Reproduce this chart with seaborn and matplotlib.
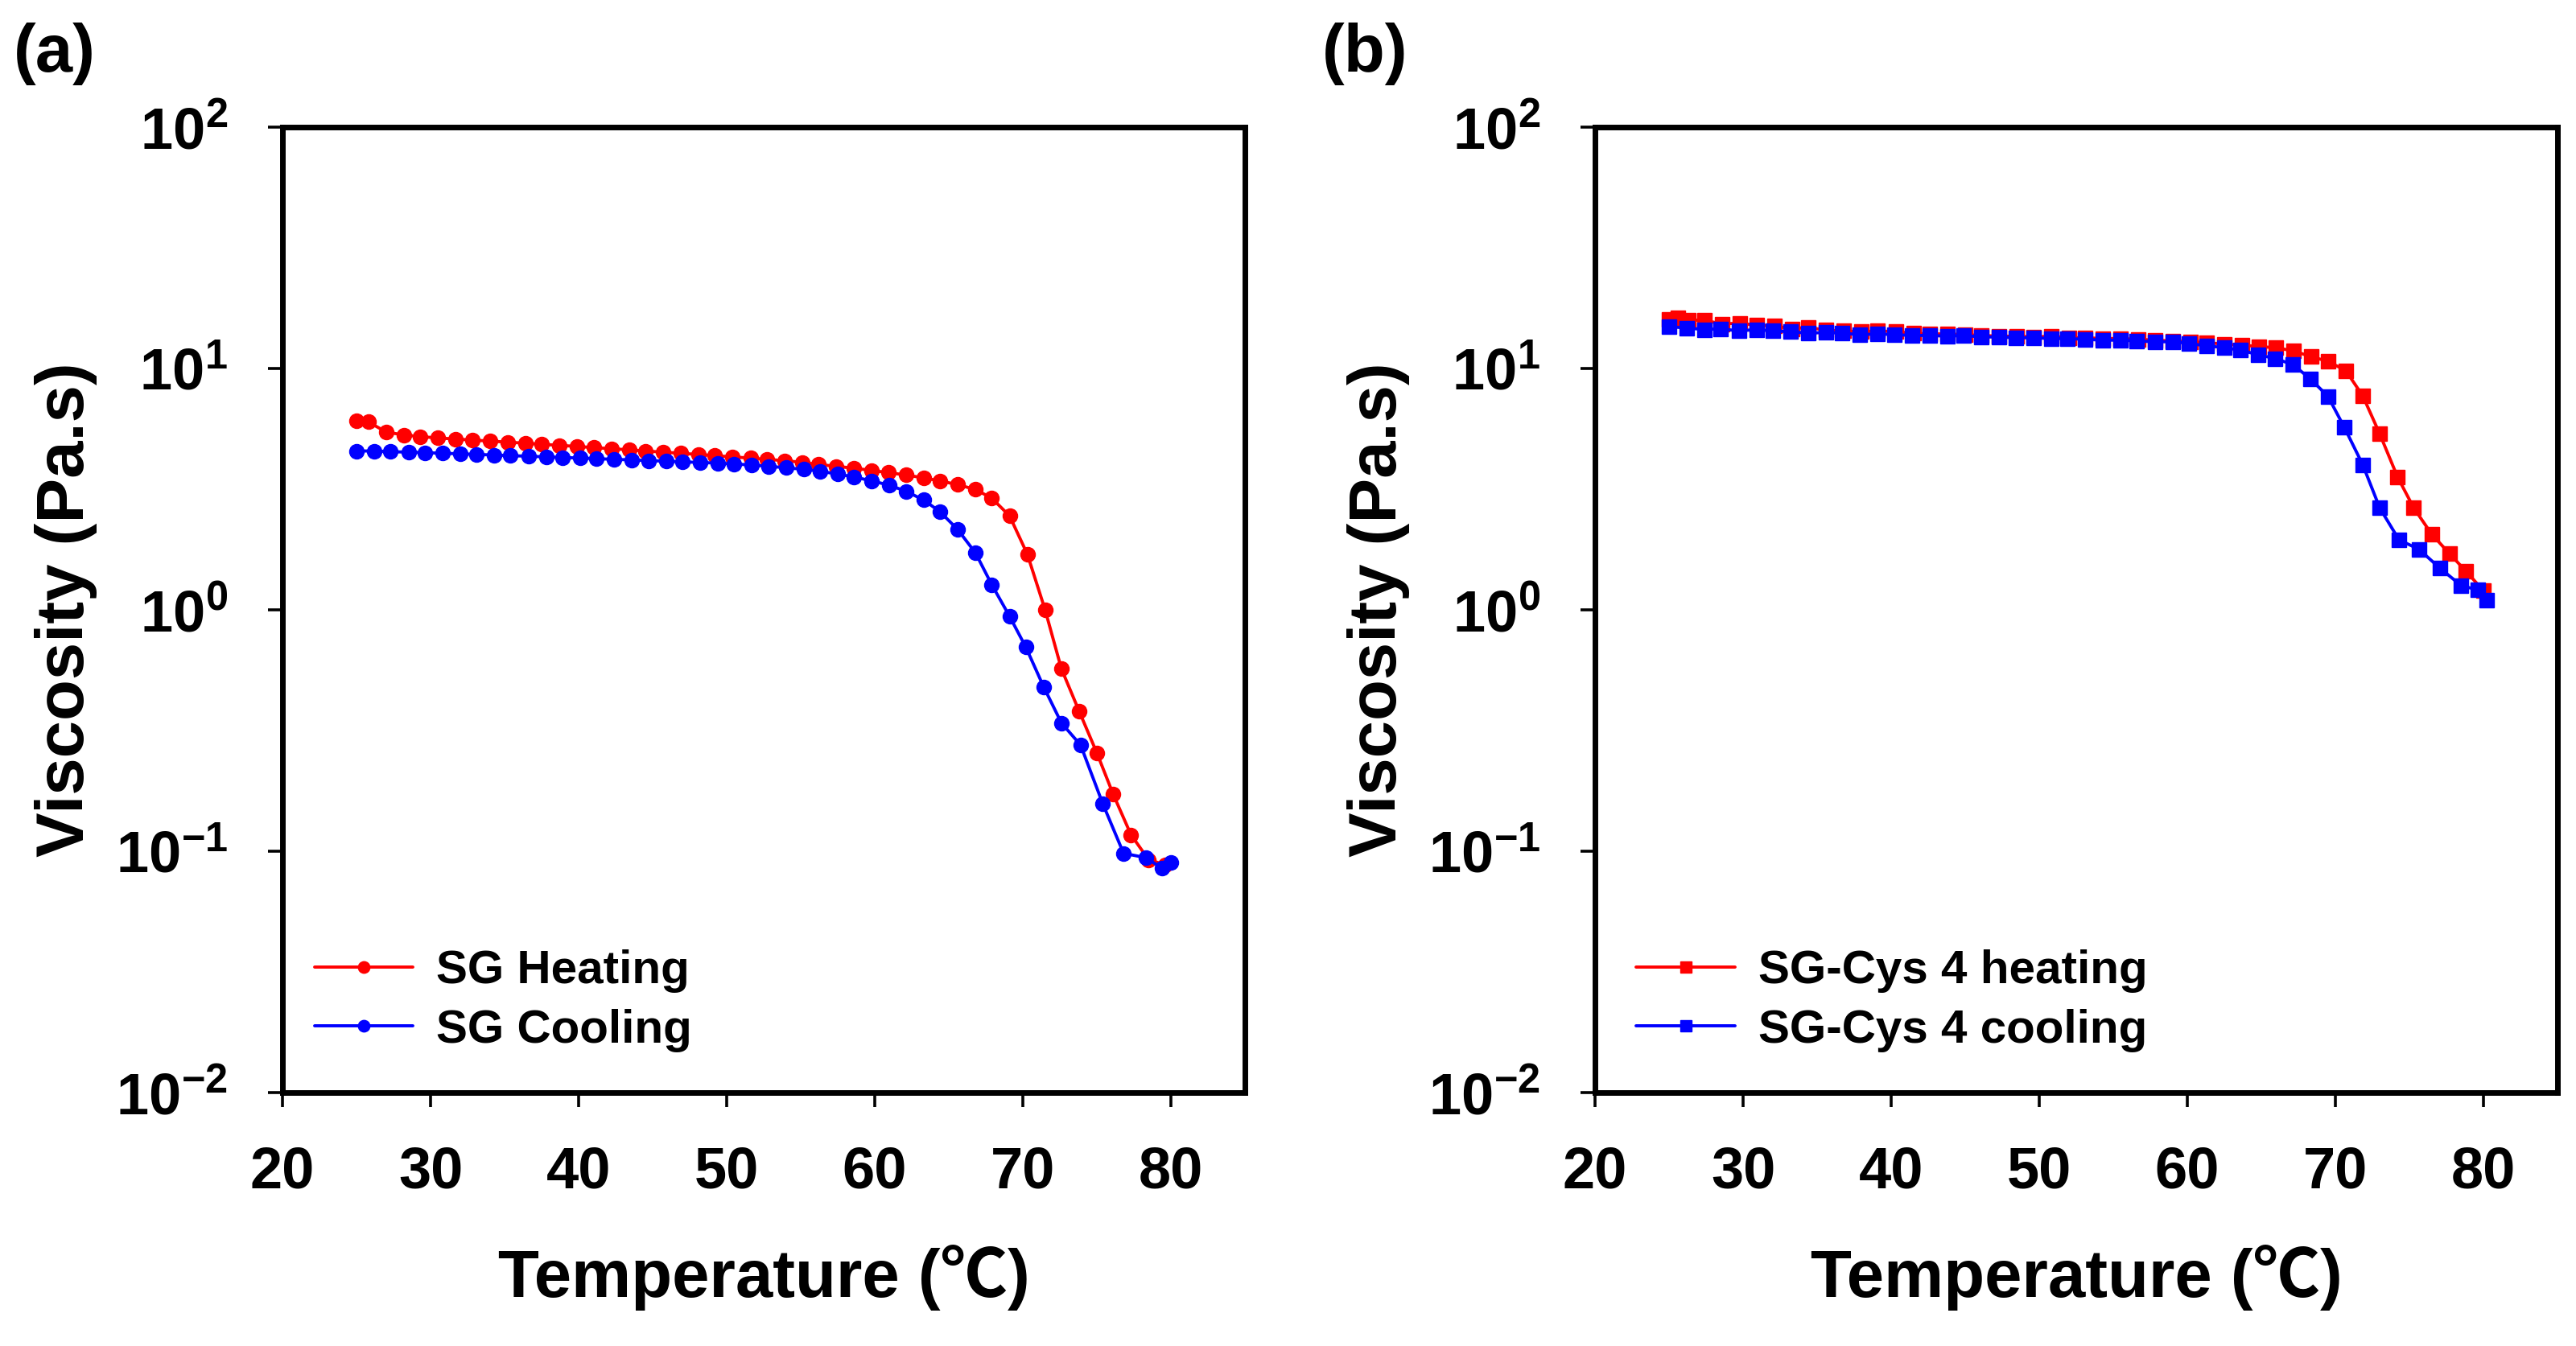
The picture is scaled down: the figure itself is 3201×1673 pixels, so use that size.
import numpy as np
import pandas as pd
import seaborn as sns
import matplotlib.pyplot as plt
from matplotlib.ticker import FixedLocator, NullLocator, LogFormatterSciNotation

# (a) SG
sg_heat_t = [25.0, 25.8, 27.0, 28.2, 29.3, 30.5, 31.7, 32.8, 34.0, 35.2, 36.4, 37.5, 38.7, 39.9,
             41.0, 42.2, 43.4, 44.5, 45.7, 46.9, 48.1, 49.2, 50.4, 51.6, 52.7, 53.9, 55.1, 56.2,
             57.4, 58.6, 59.8, 60.9, 62.1, 63.3, 64.4, 65.6, 66.8, 67.9, 69.1, 70.3, 71.5, 72.6,
             73.8, 75.0, 76.1, 77.3, 78.5, 79.6]
sg_heat_v = [6.05, 6.0, 5.45, 5.3, 5.22, 5.15, 5.1, 5.05, 5.0, 4.95, 4.9, 4.85, 4.8, 4.75,
             4.7, 4.65, 4.6, 4.55, 4.5, 4.45, 4.4, 4.35, 4.3, 4.25, 4.2, 4.15, 4.08, 4.0,
             3.93, 3.86, 3.78, 3.7, 3.62, 3.52, 3.42, 3.3, 3.15, 2.9, 2.45, 1.7, 1.0, 0.57,
             0.38, 0.255, 0.172, 0.117, 0.092, 0.088]
sg_cool_t = [25.0, 26.2, 27.3, 28.5, 29.6, 30.8, 32.0, 33.1, 34.3, 35.4, 36.6, 37.8, 38.9, 40.1,
             41.2, 42.4, 43.6, 44.7, 45.9, 47.0, 48.2, 49.4, 50.5, 51.7, 52.8, 54.0, 55.2, 56.3,
             57.5, 58.6, 59.8, 61.0, 62.1, 63.3, 64.4, 65.6, 66.8, 67.9, 69.1, 70.2, 71.4, 72.6,
             73.9, 75.4, 76.8, 78.3, 79.4, 80.0]
sg_cool_v = [4.55, 4.55, 4.52, 4.5, 4.48, 4.45, 4.43, 4.4, 4.38, 4.35, 4.33, 4.3, 4.28, 4.25,
             4.23, 4.2, 4.18, 4.15, 4.13, 4.1, 4.08, 4.05, 4.02, 3.98, 3.93, 3.88, 3.82, 3.75,
             3.65, 3.55, 3.42, 3.28, 3.1, 2.85, 2.55, 2.15, 1.72, 1.27, 0.94, 0.70, 0.48, 0.34,
             0.275, 0.157, 0.098, 0.094, 0.085, 0.09]

# (b) SG-Cys 4
cys_heat_t = [25.0, 25.6, 26.3, 27.4, 28.6, 29.8, 30.9, 32.1, 33.3, 34.4, 35.6, 36.8, 38.0, 39.1,
              40.3, 41.5, 42.6, 43.8, 45.0, 46.1, 47.3, 48.5, 49.6, 50.8, 52.0, 53.1, 54.3, 55.5,
              56.7, 57.8, 59.0, 60.2, 61.3, 62.5, 63.7, 64.85, 66.0, 67.2, 68.35, 69.5, 70.7,
              71.85, 73.0, 74.2, 75.3, 76.5, 77.7, 78.8, 80.0]
cys_heat_v = [16.0, 16.2, 15.9, 15.8, 15.3, 15.4, 15.1, 15.0, 14.6, 14.8, 14.4, 14.3, 14.2, 14.3,
              14.2, 14.0, 13.9, 13.9, 13.8, 13.7, 13.6, 13.6, 13.5, 13.6, 13.4, 13.4, 13.3, 13.3,
              13.2, 13.1, 13.0, 12.9, 12.8, 12.6, 12.5, 12.3, 12.2, 11.8, 11.2, 10.7, 9.8,
              7.7, 5.35, 3.55, 2.64, 2.06, 1.71, 1.45, 1.2]
cys_cool_t = [25.0, 26.2, 27.4, 28.5, 29.7, 30.9, 32.0, 33.2, 34.4, 35.6, 36.7, 37.9, 39.1, 40.2,
              41.4, 42.6, 43.8, 44.9, 46.1, 47.3, 48.4, 49.6, 50.8, 51.9, 53.1, 54.3, 55.5, 56.6,
              57.8, 59.0, 60.1, 61.3, 62.5, 63.6, 64.8, 65.9, 67.1, 68.3, 69.5, 70.6, 71.85,
              73.0, 74.3, 75.65, 77.05, 78.5, 79.6, 80.2]
cys_cool_v = [14.9, 14.7, 14.5, 14.6, 14.3, 14.5, 14.3, 14.2, 14.0, 14.1, 14.0, 13.8, 13.9, 13.8,
              13.7, 13.7, 13.6, 13.7, 13.5, 13.5, 13.4, 13.4, 13.3, 13.3, 13.2, 13.1, 13.1, 13.0,
              12.9, 12.9, 12.7, 12.4, 12.2, 11.9, 11.4, 11.0, 10.4, 9.07, 7.66, 5.71, 3.99,
              2.64, 1.95, 1.78, 1.49, 1.26, 1.21, 1.10]

x_ticks = [20, 30, 40, 50, 60, 70, 80]
y_ticks = [1e-2, 1e-1, 1e0, 1e1, 1e2]

sns.set_style('ticks')
plt.rcParams['font.family'] = ['Liberation Sans', 'Noto Sans CJK KR', 'DejaVu Sans']
plt.rcParams['font.weight'] = 'bold'
plt.rcParams['axes.labelweight'] = 'bold'
plt.rcParams['text.color'] = 'black'
plt.rcParams['axes.labelcolor'] = 'black'
plt.rcParams['xtick.color'] = 'black'
plt.rcParams['ytick.color'] = 'black'
plt.rcParams['mathtext.fontset'] = 'custom'
plt.rcParams['mathtext.rm'] = 'Liberation Sans:bold'
plt.rcParams['mathtext.it'] = 'Liberation Sans:bold'
plt.rcParams['mathtext.bf'] = 'Liberation Sans:bold'
plt.rcParams['mathtext.sf'] = 'Liberation Sans:bold'
plt.rcParams['mathtext.default'] = 'rm'

fig = plt.figure(figsize=(16.005, 8.365), dpi=200)
ax_a = fig.add_axes([0.1097, 0.1883, 0.3736, 0.7173])
ax_b = fig.add_axes([0.6192, 0.1883, 0.3736, 0.7173])

panels = [
    (ax_a, 'o', [(sg_heat_t, sg_heat_v, 'SG Heating', '#ff0000'),
                 (sg_cool_t, sg_cool_v, 'SG Cooling', '#0000ff')], (0.033, 0.095)),
    (ax_b, 's', [(cys_heat_t, cys_heat_v, 'SG-Cys 4 heating', '#ff0000'),
                 (cys_cool_t, cys_cool_v, 'SG-Cys 4 cooling', '#0000ff')], (0.043, 0.095)),
]

for ax, mk, series, leg_pos in panels:
    for t, v, lab, col in series:
        df = pd.DataFrame({'T': t, 'V': v})
        sns.lineplot(data=df, x='T', y='V', ax=ax, color=col, label=lab, marker=mk,
                     markersize=6.5, markeredgecolor=col, markeredgewidth=0.5, linewidth=1.4)
    ax.set_yscale('log')
    ax.set_ylim(1e-2, 1e2)
    ax.set_xlim(20, 85)
    ax.xaxis.set_major_locator(FixedLocator(x_ticks))
    ax.yaxis.set_major_locator(FixedLocator(y_ticks))
    ax.yaxis.set_minor_locator(NullLocator())
    ax.xaxis.set_minor_locator(NullLocator())
    ax.yaxis.set_major_formatter(LogFormatterSciNotation())
    for s in ax.spines.values():
        s.set_visible(True)
        s.set_linewidth(2.5)
        s.set_color('black')
    ax.tick_params(axis='both', which='major', direction='out', length=6.5, width=1.3,
                   labelsize=26, color='black', labelcolor='black', top=False, right=False)
    ax.tick_params(axis='x', pad=17)
    ax.tick_params(axis='y', pad=18)
    ax.set_xlabel('Temperature (\u2103)', fontsize=30, fontweight='bold', va='center', color='black')
    ax.set_ylabel('Viscosity (Pa.s)', fontsize=30, fontweight='bold', va='center', color='black')
    ax.xaxis.set_label_coords(0.5, -0.192)
    ax.yaxis.set_label_coords(-0.225, 0.5)
    leg = ax.legend(loc='center left', bbox_to_anchor=leg_pos, frameon=False,
                    fontsize=21, handlelength=2.1, handletextpad=0.5, labelspacing=0.33,
                    borderaxespad=0, borderpad=0, markerscale=0.8)
    for txt in leg.get_texts():
        txt.set_fontweight('bold')
        txt.set_color('black')

fig.text(0.0053, 1 - 67 / 1673, '(a)', fontsize=30, fontweight='bold', va='center', ha='left', color='black')
fig.text(1643 / 3201, 1 - 67 / 1673, '(b)', fontsize=30, fontweight='bold', va='center', ha='left', color='black')

fig.savefig('out.png', dpi=200, facecolor='white')
